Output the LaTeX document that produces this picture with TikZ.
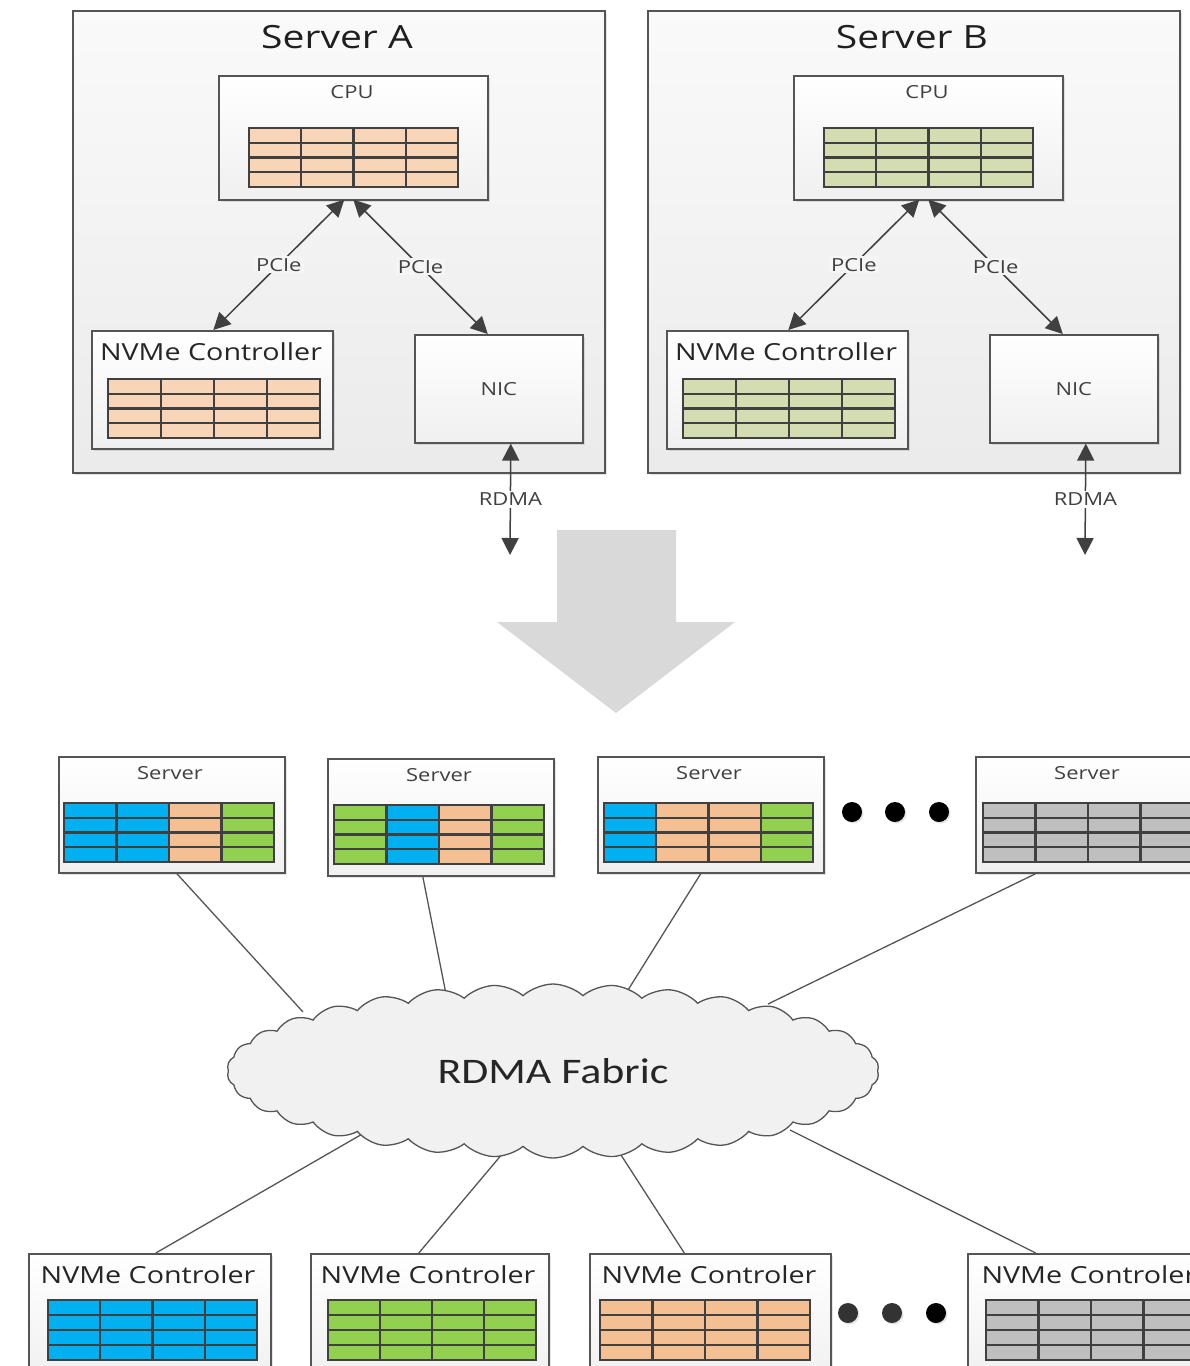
\documentclass[tikz,border=0pt]{standalone}
\usepackage{fontspec}
\setmainfont{Open Sans}[FakeStretch=1.22]
\newfontfamily\fabricfont{Carlito}[FakeStretch=1.22]
\usetikzlibrary{arrows.meta,shapes.symbols,shadows,calc}

\definecolor{edge}{HTML}{555555}
\definecolor{ink}{HTML}{404040}
\definecolor{peachA}{HTML}{F8D5B6}
\definecolor{sageB}{HTML}{D4DDB1}
\definecolor{cblue}{HTML}{00B0F0}
\definecolor{cgreen}{HTML}{92D050}
\definecolor{cpeach}{HTML}{F4BF93}
\definecolor{cgray}{HTML}{BFBFBF}
\definecolor{arrowgray}{HTML}{D9D9D9}
\definecolor{cloudfill}{HTML}{F1F1F1}

\tikzset{
  box/.style={draw=edge, line width=1.6pt, top color=white, bottom color=black!6,
    drop shadow={shadow xshift=2.5pt, shadow yshift=-2.5pt, opacity=.22},
    inner sep=0pt, anchor=north west},
  outerbox/.style={box, top color=black!2, bottom color=black!8},
  link/.style={draw=ink, line width=1.5pt,
    {Triangle[length=17pt,width=17pt]}-{Triangle[length=17pt,width=17pt]}},
  tag/.style={fill=black!4, inner sep=2pt, text=ink, font=\fontsize{18}{20}\selectfont},
  small/.style={text=ink, font=\fontsize{18}{20}\selectfont},
  mid/.style={text=black!85, font=\fontsize{23.5}{26}\selectfont},
  wire/.style={draw=edge, line width=1.3pt},
  gridline/.style={draw=ink, line width=2.1pt},
  dot/.style={circle, fill=black, minimum size=20pt, inner sep=0pt,
    drop shadow={shadow xshift=1.5pt, shadow yshift=-1.5pt, opacity=.2}},
}

% 4 x 4 cell table: corners (#1,#2)-(#3,#4), one colour per column in #5
\newcommand\cellgrid[5]{%
  \foreach \gcol [count=\gi from 0] in {#5}
    \fill[fill=\gcol] ({#1+\gi*(#3-#1)/4},#2) rectangle ({#1+(\gi+1)*(#3-#1)/4},#4);
  \foreach \gk in {1,2,3}{
    \draw[gridline] ({#1+\gk*(#3-#1)/4},#2) -- ({#1+\gk*(#3-#1)/4},#4);
    \draw[gridline] (#1,{#2+\gk*(#4-#2)/4}) -- (#3,{#2+\gk*(#4-#2)/4});
  }
  \draw[gridline] (#1,#2) rectangle (#3,#4);
}

% One server with CPU, NVMe controller and NIC
\newcommand\serverpanel[3]{%
  \node[outerbox, minimum width=532, minimum height=462] (srv#1) at (72,10) {};
  \node[text=black!88, font=\fontsize{32}{36}\selectfont] (title#1) at (337,37) {#2};
  \node[box, minimum width=269, minimum height=124] (cpu#1) at (218,75) {};
  \node[small] (cpulbl#1) at (352,92) {CPU};
  \cellgrid{249}{128}{458}{187}{#3,#3,#3,#3}
  \node[box, minimum width=241, minimum height=118] (nvme#1) at (91,330) {};
  \node[mid] (nvmelbl#1) at (211,352) {NVMe Controller};
  \cellgrid{108}{379}{320}{438}{#3,#3,#3,#3}
  \node[box, minimum width=168, minimum height=108, small] (nic#1) at (414,334) {NIC};
  \coordinate (net#1) at (510,555);
  \draw[link] ($(cpu#1.south)+(-9,-1)$) -- node[tag] {PCIe} ($(nvme#1.north)+(1,0)$);
  \draw[link] ($(cpu#1.south)+(0,-1)$) -- node[tag] {PCIe} ($(nic#1.north)+(-11,0)$);
  \draw[link] ($(nic#1.south)+(12,0)$) -- node[tag, fill=white] {RDMA} (net#1);
}

\begin{document}
\begin{tikzpicture}[x=1pt, y=-1pt]
\clip (0,0) rectangle (1190,1366);
\fill[white] (0,0) rectangle (1190,1366);

% two stand-alone servers
\serverpanel{A}{Server A}{peachA}
\begin{scope}[xshift=575pt]
  \serverpanel{B}{Server B}{sageB}
\end{scope}

% transition arrow
\fill[arrowgray] (557,530) -- (676,530) -- (676,622) -- (735,622) -- (616,713)
  -- (497,622) -- (557,622) -- cycle;

% servers attached to the fabric
\node[box, minimum width=226, minimum height=116] (s1) at (58,756) {};
\node[small] at (170,773) {Server};
\cellgrid{64}{803}{274}{862}{cblue,cblue,cpeach,cgreen}
\node[box, minimum width=226, minimum height=117] (s2) at (327,758) {};
\node[small] at (439,775) {Server};
\cellgrid{334}{805}{544}{864}{cgreen,cblue,cpeach,cgreen}
\node[box, minimum width=226, minimum height=116] (s3) at (597,756) {};
\node[small] at (709,773) {Server};
\cellgrid{604}{803}{813}{862}{cblue,cpeach,cpeach,cgreen}
\node[box, minimum width=226, minimum height=116] (s4) at (975,756) {};
\node[small] at (1087,773) {Server};
\cellgrid{983}{803}{1193}{862}{cgray,cgray,cgray,cgray}

\node[dot] (sd1) at (852,812) {};
\node[dot] (sd2) at (895,812) {};
\node[dot] (sd3) at (939,812) {};

% NVMe controllers attached to the fabric
\node[box, minimum width=242, minimum height=130] (n1) at (28,1253) {};
\node[mid] at (148,1275) {NVMe Controler};
\cellgrid{48}{1300}{257}{1360}{cblue,cblue,cblue,cblue}
\node[box, minimum width=238, minimum height=130] (n2) at (310,1253) {};
\node[mid] at (428,1275) {NVMe Controler};
\cellgrid{328}{1300}{536}{1360}{cgreen,cgreen,cgreen,cgreen}
\node[box, minimum width=241, minimum height=130] (n3) at (589,1253) {};
\node[mid] at (709,1275) {NVMe Controler};
\cellgrid{600}{1300}{810}{1360}{cpeach,cpeach,cpeach,cpeach}
\node[box, minimum width=242, minimum height=130] (n4) at (967,1253) {};
\node[mid, anchor=west] at (978,1275) {NVMe Controler};
\cellgrid{986}{1300}{1196}{1360}{cgray,cgray,cgray,cgray}

\node[dot, fill=black!80] (nd1) at (848,1313) {};
\node[dot, fill=black!80] (nd2) at (892,1313) {};
\node[dot] (nd3) at (936,1313) {};

% links into the cloud
\coordinate (f1) at (303,1012);
\coordinate (f2) at (446,994);
\coordinate (f3) at (628,990);
\coordinate (f4) at (768,1004);
\coordinate (f5) at (364,1133);
\coordinate (f6) at (503,1153);
\coordinate (f7) at (621,1155);
\coordinate (f8) at (790,1130);
\draw[wire] ($(s1.south)+(5,0)$) -- (f1);
\draw[wire] ($(s2.south)+(-18,0)$) -- (f2);
\draw[wire] ($(s3.south)+(-10,0)$) -- (f3);
\draw[wire] ($(s4.south)+(-53,0)$) -- (f4);
\draw[wire] (f5) -- ($(n1.north)+(6,0)$);
\draw[wire] (f6) -- ($(n2.north)+(-11,0)$);
\draw[wire] (f7) -- ($(n3.north)+(-26,0)$);
\draw[wire] (f8) -- ($(n4.north)+(-53,0)$);

\node[cloud, cloud puffs=34, cloud puff arc=85, aspect=3.7, draw=edge,
  line width=1.3pt, fill=cloudfill, minimum width=652, minimum height=174,
  inner sep=0pt, text=black!85, font=\fabricfont\fontsize{36}{40}\selectfont]
  (fabric) at (553,1071) {RDMA Fabric};
\end{tikzpicture}
\end{document}
